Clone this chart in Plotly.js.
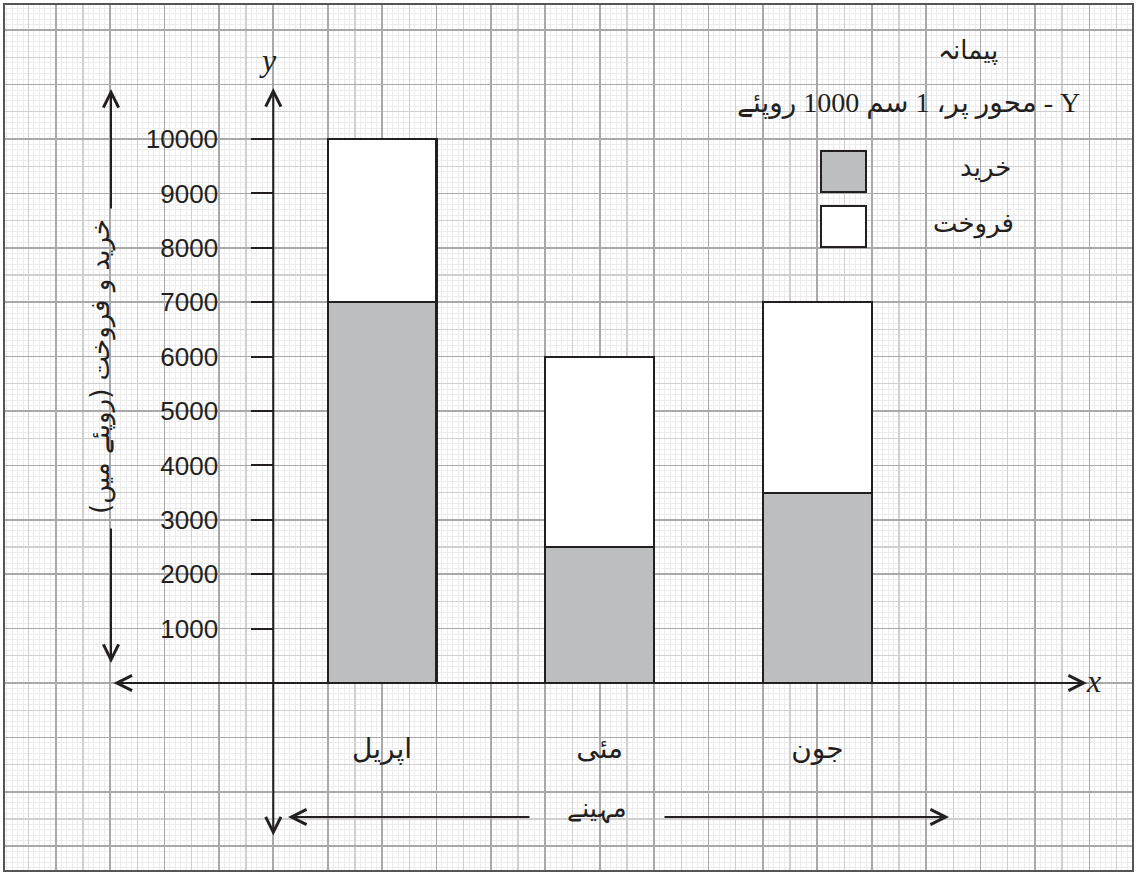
<!DOCTYPE html>
<html><head><meta charset="utf-8">
<script src="https://cdn.plot.ly/plotly-3.0.1.min.js"></script>
<style>html,body{margin:0;padding:0;background:#fff}#chart{width:1137px;height:875px}</style>
</head><body><div id="chart"></div>
<script>
// ---- data ----
const months = ['اپریل', 'مئی', 'جون'];
const purchase = [7000, 2500, 3500];   // خرید
const sales = [3000, 3500, 3500];      // فروخت
const seriesNames = ['خرید', 'فروخت'];
const yTickVals = [1000, 2000, 3000, 4000, 5000, 6000, 7000, 8000, 9000, 10000];
const yTickText = ['1000', '2000', '3000', '4000', '5000', '6000', '7000', '8000', '9000', '10000'];
const yTitle = 'خرید و فروخت (روپئے میں)';
const xTitle = 'مہینے';
const scaleTitle = 'پیمانہ';
const scaleText = 'Y - محور پر، 1 سم 1000 روپئے';

// ---- geometry (graph paper: 1 cm = 1000 rupees) ----
const W = 1137, H = 875, M = 4;
const PW = W - 2 * M, PH = H - 2 * M;
const X0PX = 273.3, Y0PX = 683, UNIT = 54.4;
const xr = [-(X0PX - M) / UNIT, (W - M - X0PX) / UNIT];
const yr = [-(H - M - Y0PX) / UNIT * 1000, (Y0PX - M) / UNIT * 1000];
const xpos = months.map((m, i) => 2 + 4 * i);
const px = x => (x - M) / PW;
const py = y => (H - M - y) / PH;
const INK = '#231f20';
const RLE = '\u202B', PDF = '\u202C';
const arabicFont = 'DejaVu Sans';

const traces = [
  {type: 'bar', x: xpos, y: purchase, name: seriesNames[0], width: 2,
   marker: {color: '#bcbec0', line: {color: INK, width: 2.2}}, hoverinfo: 'y'},
  {type: 'bar', x: xpos, y: sales, name: seriesNames[1], width: 2,
   marker: {color: '#ffffff', line: {color: INK, width: 2.2}}, hoverinfo: 'y'},
  {type: 'scatter', x: [], y: [], xaxis: 'x2', yaxis: 'y2', showlegend: false, hoverinfo: 'skip'},
  {type: 'scatter', x: [], y: [], xaxis: 'x3', yaxis: 'y3', showlegend: false, hoverinfo: 'skip'}
];

function gridAxis(range, dtick, color, width, minorDtick) {
  const a = {range: range, autorange: false, showgrid: true, gridcolor: color, gridwidth: width,
    tickmode: 'linear', tick0: 0, dtick: dtick, showticklabels: false, ticks: '',
    zeroline: false, showline: false, fixedrange: true};
  if (minorDtick) a.minor = {tickmode: 'linear', tick0: 0, dtick: minorDtick, showgrid: true,
    gridcolor: '#ececec', gridwidth: 1, ticks: ''};
  return a;
}

function arrow(xref, x, yref, y, ax, ay, both) {
  return {xref: xref, x: x, yref: yref, y: y, axref: 'pixel', ayref: 'pixel', ax: ax, ay: ay,
    text: '', showarrow: true, arrowhead: 5, startarrowhead: 5, arrowside: both ? 'end+start' : 'end',
    arrowsize: 1.5, startarrowsize: 1.5, arrowwidth: 2, arrowcolor: INK, standoff: 0, startstandoff: 0};
}
function label(x, y, text, size, opts) {
  return Object.assign({xref: 'paper', yref: 'paper', x: px(x), y: py(y), text: text, showarrow: false,
    font: {family: arabicFont, size: size, color: INK}, xanchor: 'center', yanchor: 'middle'}, opts || {});
}

const layout = {
  width: W, height: H, barmode: 'stack', showlegend: false,
  margin: {l: M, r: M, t: M, b: M}, paper_bgcolor: '#ffffff', plot_bgcolor: '#ffffff',
  xaxis: {range: xr, autorange: false, anchor: 'free', position: py(Y0PX), showgrid: false,
    zeroline: false, showline: false, tickmode: 'array', tickvals: xpos, ticktext: months, ticks: '',
    ticklabelstandoff: 46, tickfont: {family: arabicFont, size: 28, color: INK}, fixedrange: true},
  yaxis: {range: yr, autorange: false, anchor: 'free', position: px(X0PX), showgrid: false,
    zeroline: false, showline: false, tickmode: 'array', tickvals: yTickVals, ticktext: yTickText,
    ticks: 'outside', ticklen: 22, tickwidth: 2, tickcolor: INK, ticklabelstandoff: 28,
    tickfont: {family: 'Liberation Sans', size: 26, color: INK}, fixedrange: true},
  xaxis2: Object.assign(gridAxis(xr, 0.5, '#cfcfcf', 1.3, 0.1), {overlaying: 'x', anchor: 'y2'}),
  yaxis2: Object.assign(gridAxis(yr, 500, '#cfcfcf', 1.3, 100), {overlaying: 'y', anchor: 'x2'}),
  xaxis3: Object.assign(gridAxis(xr, 1, '#a9a9a9', 1.6), {overlaying: 'x', anchor: 'y3'}),
  yaxis3: Object.assign(gridAxis(yr, 1000, '#a9a9a9', 1.6), {overlaying: 'y', anchor: 'x3'}),
  shapes: [
    {type: 'rect', xref: 'paper', yref: 'paper', x0: 0, x1: 1, y0: 0, y1: 1, line: {color: '#555', width: 2}},
    {type: 'rect', xref: 'paper', yref: 'paper', x0: px(821), x1: px(866), y0: py(192), y1: py(151),
     fillcolor: '#bcbec0', line: {color: INK, width: 2}},
    {type: 'rect', xref: 'paper', yref: 'paper', x0: px(821), x1: px(866), y0: py(247), y1: py(206),
     fillcolor: '#ffffff', line: {color: INK, width: 2}}
  ],
  annotations: [
    // axes with arrows
    arrow('x', 0, 'paper', py(88), 0, 837 - 88, true),
    arrow('paper', px(1087), 'y', 0, 112 - 1087, 0, true),
    // y title arrows
    arrow('paper', px(111), 'paper', py(89), 0, 121, false),
    arrow('paper', px(111), 'paper', py(663), 0, -136, false),
    // x title arrows
    arrow('paper', px(288), 'paper', py(817), 243, 0, false),
    arrow('paper', px(949), 'paper', py(817), -286, 0, false),
    // axis letters
    {xref: 'x', x: 0, yref: 'paper', y: py(60), xshift: -5, yanchor: 'middle', text: '<i>y</i>',
     showarrow: false, font: {family: 'Liberation Serif', size: 32, color: INK}},
    {xref: 'paper', x: px(1103), yref: 'y', y: 0, yshift: 2, yanchor: 'middle', text: '<i>x</i>',
     showarrow: false, font: {family: 'Liberation Serif', size: 32, color: INK}},
    // titles
    label(100, 367, RLE + yTitle + PDF, 26, {textangle: -90}),
    label(597, 808, xTitle, 26),
    // legend / scale
    label(968, 50, scaleTitle, 26),
    label(1082, 103, RLE + scaleText + PDF, 28, {xanchor: 'right',
      font: {family: 'Liberation Serif, ' + arabicFont, size: 28, color: INK}}),
    label(985, 168, seriesNames[0], 26),
    label(973, 223, seriesNames[1], 26)
  ]
};

Plotly.newPlot('chart', traces, layout, {displayModeBar: false, staticPlot: true});
</script>
</body></html>
